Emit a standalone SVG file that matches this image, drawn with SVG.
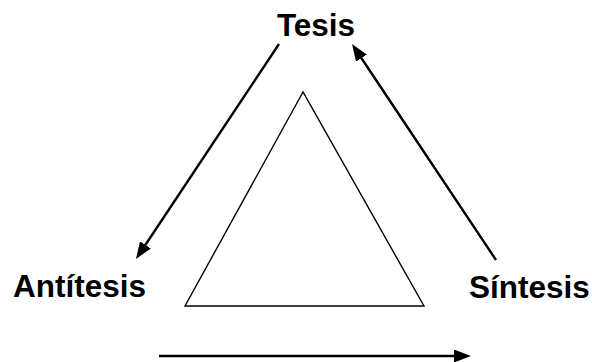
<svg xmlns="http://www.w3.org/2000/svg" width="592" height="362" viewBox="0 0 592 362">
<style>
.lbl{font-family:"Liberation Sans",Arial,sans-serif;font-weight:bold;font-size:31.5px;fill:#000}
.con{stroke:#000;stroke-width:2.4;fill:none}
</style>
<defs>
<marker id="ah" viewBox="0 0 17 13" refX="8" refY="6.5" markerWidth="17" markerHeight="13" markerUnits="userSpaceOnUse" orient="auto">
<path d="M0,0 L17,6.5 L0,13 Z" fill="#000"/>
</marker>
</defs>
<rect width="592" height="362" fill="#fff"/>
<g id="triangle">
<polygon points="303,92 185,306 424,306" fill="none" stroke="#000" stroke-width="1.4"/>
</g>
<g id="tesis">
<text class="lbl" x="316" y="36" text-anchor="middle">Tesis</text>
</g>
<g id="antitesis">
<text class="lbl" x="13" y="297">Antítesis</text>
</g>
<g id="sintesis">
<text class="lbl" x="469" y="298">Síntesis</text>
</g>
<g id="connectors">
<line class="con" x1="279" y1="44" x2="141" y2="251.5" marker-end="url(#ah)"/>
<line class="con" x1="496" y1="260" x2="357" y2="51.5" marker-end="url(#ah)"/>
<line class="con" x1="159" y1="356" x2="462" y2="356" marker-end="url(#ah)"/>
</g>
</svg>
